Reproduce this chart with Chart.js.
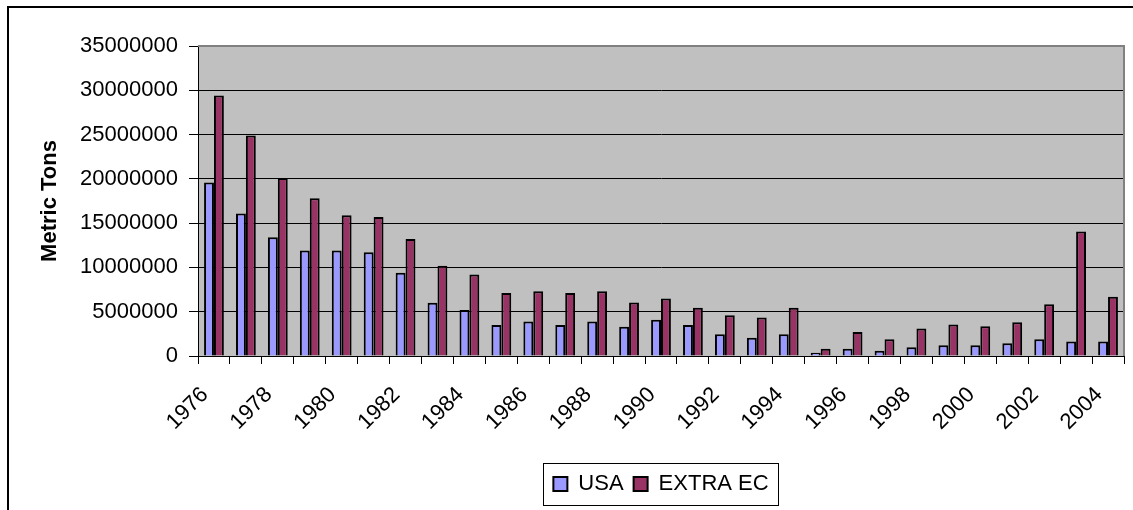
<!DOCTYPE html>
<html>
<head>
<meta charset="utf-8">
<script src="https://cdn.jsdelivr.net/npm/chart.js@4.4.1/dist/chart.umd.min.js"></script>
<style>
  html, body { margin: 0; padding: 0; background: #ffffff; }
  canvas { display: block; }
</style>
</head>
<body>
<canvas id="c" width="1133" height="510"></canvas>
<script>
const years = ['1976','1977','1978','1979','1980','1981','1982','1983','1984','1985',
  '1986','1987','1988','1989','1990','1991','1992','1993','1994','1995',
  '1996','1997','1998','1999','2000','2001','2002','2003','2004'];
const usaValues = [19600000,16100000,13400000,11900000,11900000,11700000,9400000,6000000,5200000,3500000,
  3900000,3500000,3900000,3300000,4100000,3500000,2450000,2050000,2450000,370000,
  830000,600000,1000000,1200000,1200000,1430000,1900000,1650000,1650000];
const extraEcValues = [29400000,24900000,20100000,17800000,15900000,15700000,13200000,10200000,9200000,7100000,
  7300000,7100000,7300000,6050000,6500000,5450000,4600000,4350000,5450000,830000,
  2700000,1900000,3100000,3550000,3350000,3800000,5850000,14050000,6700000];
const seriesNames = ['USA', 'EXTRA EC'];
const yTicks = { min: 0, max: 35000000, step: 5000000 };
const axisTitle = 'Metric Tons';

const FONT = "'Liberation Sans', Arial, sans-serif";

const framePlugin = {
  id: 'frame',
  beforeDraw(chart) {
    const a = chart.chartArea, ctx = chart.ctx;
    ctx.save();
    ctx.fillStyle = '#C0C0C0';
    ctx.fillRect(a.left, a.top, a.right - a.left, a.bottom - a.top);
    ctx.restore();
  },
  afterDraw(chart) {
    const a = chart.chartArea, ctx = chart.ctx;
    ctx.save();
    ctx.strokeStyle = '#808080';
    ctx.lineWidth = 2;
    ctx.beginPath();
    ctx.moveTo(a.left, a.top);
    ctx.lineTo(a.right, a.top);
    ctx.lineTo(a.right, a.bottom);
    ctx.stroke();
    const boxes = chart.legend.legendHitBoxes;
    if (boxes && boxes.length) {
      let minX = Infinity, maxX = -Infinity, minY = Infinity, maxY = -Infinity;
      boxes.forEach(b => {
        minX = Math.min(minX, b.left); maxX = Math.max(maxX, b.left + b.width);
        minY = Math.min(minY, b.top); maxY = Math.max(maxY, b.top + b.height);
      });
      ctx.strokeStyle = '#000000';
      ctx.lineWidth = 1;
      ctx.strokeRect(Math.round(minX - 10) + 0.5, Math.round(minY - 10) + 0.5,
        Math.round(maxX - minX + 20), Math.round(maxY - minY + 20));
    }
    ctx.fillStyle = '#000000';
    ctx.fillRect(7, 6, 1126, 2);
    ctx.fillRect(7, 6, 2, 504);
    ctx.restore();
  }
};

new Chart(document.getElementById('c'), {
  type: 'bar',
  data: {
    labels: years,
    datasets: [
      { label: seriesNames[0], data: usaValues, backgroundColor: '#9999FF', borderColor: '#000000', borderWidth: 2 },
      { label: seriesNames[1], data: extraEcValues, backgroundColor: '#993366', borderColor: '#000000', borderWidth: 2 }
    ]
  },
  options: {
    responsive: false,
    animation: false,
    devicePixelRatio: 1,
    layout: { padding: { left: 9, right: 9, top: 46, bottom: 5 } },
    datasets: { bar: { categoryPercentage: 0.62, barPercentage: 1.0 } },
    plugins: {
      legend: {
        position: 'bottom',
        fullSize: false,
        labels: {
          font: { family: FONT, size: 22 },
          color: '#000000',
          boxWidth: 14,
          boxHeight: 14,
          padding: 10,
          useBorderRadius: false
        }
      },
      tooltip: { enabled: false },
      title: { display: false }
    },
    scales: {
      x: {
        grid: { display: true, drawOnChartArea: false, drawTicks: true, tickLength: 8, color: '#000000', offset: true },
        border: { display: true, color: '#000000', width: 1 },
        ticks: {
          autoSkip: false,
          minRotation: 45,
          maxRotation: 45,
          padding: 18,
          labelOffset: -9,
          color: '#000000',
          font: { family: FONT, size: 22 },
          callback: function(value, index) { return index % 2 === 0 ? this.getLabelForValue(value) : ''; }
        },
        afterFit(scale) { scale.height = 107; scale.paddingRight = 0; scale.paddingLeft = 0; }
      },
      y: {
        min: yTicks.min,
        max: yTicks.max,
        grid: { color: '#000000', lineWidth: 1, drawTicks: true, tickLength: 9 },
        border: { display: true, color: '#000000', width: 1 },
        ticks: {
          stepSize: yTicks.step,
          padding: 11,
          color: '#000000',
          font: { family: FONT, size: 22 },
          callback: v => String(v)
        },
        title: {
          display: true,
          text: axisTitle,
          color: '#000000',
          font: { family: FONT, size: 22, weight: 'bold' },
          padding: { top: 28, bottom: 0 }
        },
        afterFit(scale) { scale.width = 189; scale.paddingTop = 0; scale.paddingBottom = 0; }
      }
    }
  },
  plugins: [framePlugin]
});
</script>
</body>
</html>
